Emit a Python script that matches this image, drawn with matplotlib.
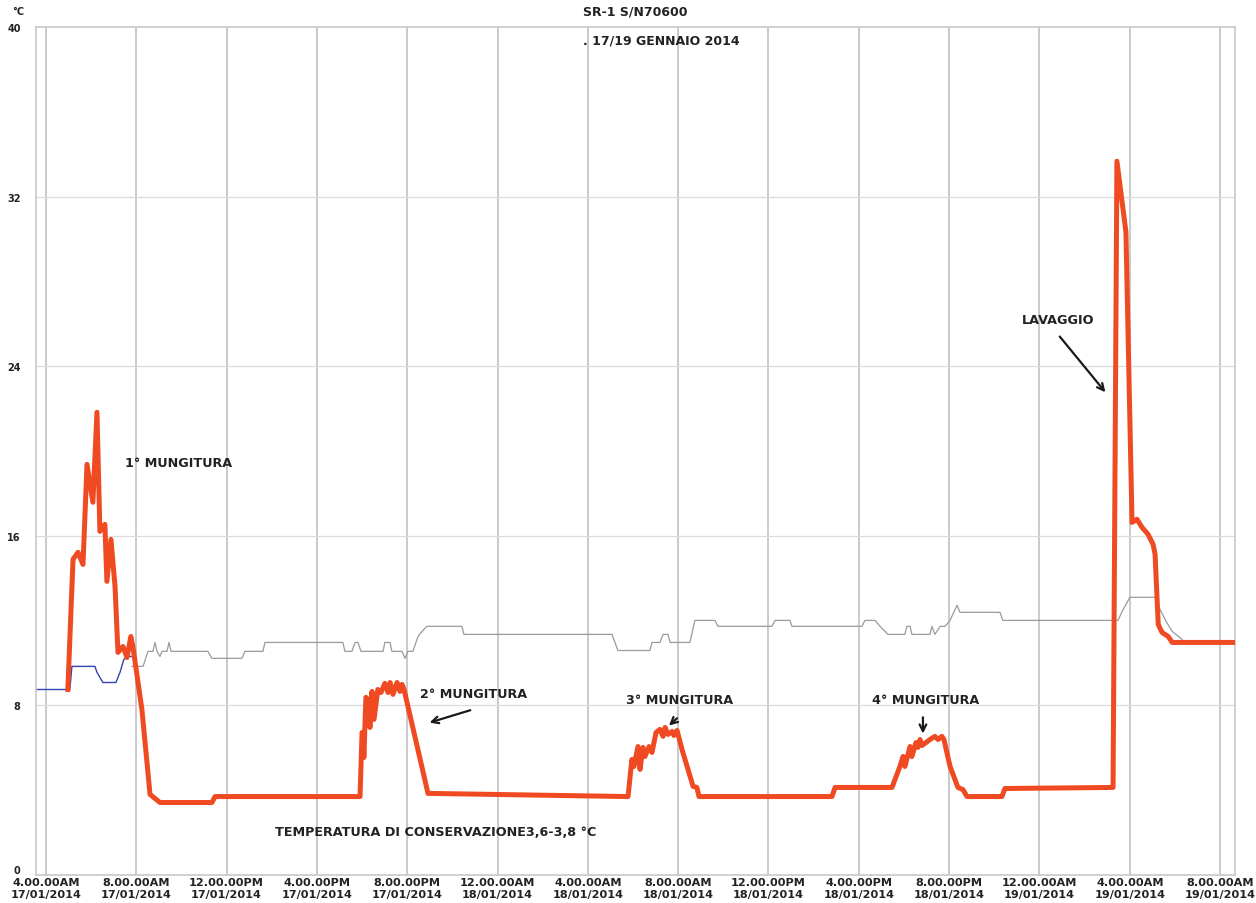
"""
Temperature log SR-1 S/N70600, 17/19 gennaio 2014
"""

import numpy as np
import matplotlib.pyplot as plt

# time in hours from 17/01/2014 00:00, temperature in degC
red_h = [4.97, 5.20, 5.42, 5.64, 5.82, 6.08, 6.26, 6.39, 6.61, 6.70, 6.88, 7.06, 7.19, 7.41, 7.59,
         7.76, 7.85, 8.25, 8.61, 9.05, 11.35, 11.49, 17.91,
         18.00, 18.04, 18.08, 18.17, 18.26, 18.35, 18.44, 18.53, 18.70, 18.84, 19.01, 19.15, 19.24,
         19.37, 19.55, 19.68, 19.77, 19.86, 20.92, 29.78,
         29.95, 30.04, 30.22, 30.31, 30.44, 30.53, 30.71, 30.84, 31.02, 31.19, 31.33, 31.42, 31.55,
         31.73, 31.81, 31.95, 32.17, 32.66, 32.83, 32.92, 38.81, 38.95, 41.47,
         41.82, 41.96, 42.04, 42.27, 42.35, 42.53, 42.62, 42.71, 42.80, 42.98, 43.15, 43.37, 43.51,
         43.68, 43.77, 44.04, 44.39, 44.61, 44.79, 46.34, 46.47, 51.26,
         51.43, 51.83, 52.10, 52.32, 52.54, 52.81, 53.03, 53.12, 53.26, 53.43, 53.70, 53.88, 56.57]
red_T = [8.75, 14.89, 15.22, 14.65, 19.37, 17.58, 21.83, 16.21, 16.54, 13.85, 15.83, 13.61, 10.50, 10.78, 10.26,
         11.25, 10.78, 7.81, 3.80, 3.42, 3.42, 3.70, 3.70,
         6.72, 6.63, 5.54, 8.38, 8.28, 6.96, 8.66, 7.34, 8.75, 8.61, 9.04, 8.61, 9.08,
         8.52, 9.08, 8.66, 8.99, 8.75, 3.85, 3.70,
         5.45, 5.12, 6.06, 4.98, 6.02, 5.59, 6.06, 5.78, 6.72, 6.87, 6.54, 6.96, 6.63,
         6.77, 6.58, 6.82, 5.92, 4.18, 4.13, 3.70, 3.70, 4.13, 4.13,
         5.12, 5.59, 5.12, 6.06, 5.59, 6.25, 6.02, 6.39, 6.11, 6.25, 6.39, 6.54, 6.39,
         6.54, 6.39, 5.12, 4.13, 4.03, 3.70, 3.70, 4.08, 4.13,
         33.67, 30.32, 16.63, 16.78, 16.40, 16.07, 15.60, 15.13, 11.82, 11.44, 11.25, 10.97, 10.97]

blue_h = [3.56, 5.06, 5.15, 6.17, 6.26, 6.52, 7.10, 7.28, 7.45, 7.63, 7.81]
blue_T = [8.75, 8.75, 9.84, 9.84, 9.56, 9.08, 9.08, 9.56, 10.17, 10.31, 10.31]

gray_h = [7.81, 8.30, 8.52, 8.74, 8.83, 8.92, 9.05, 9.14, 9.36, 9.45, 9.54, 11.17, 11.35, 12.68,
          12.81, 13.61, 13.70, 17.15, 17.24, 17.55, 17.69, 17.82, 17.95, 18.93, 19.01, 19.24, 19.32,
          19.77, 19.90, 20.03, 20.25, 20.48, 20.61, 20.87, 22.42, 22.51, 29.07, 29.33, 30.75, 30.84,
          31.19, 31.33, 31.55, 31.64, 32.52, 32.74, 33.63, 33.76, 36.15, 36.29, 36.95, 37.04, 40.14,
          40.27, 40.72, 40.94, 41.29, 42.04, 42.13, 42.27, 42.35, 43.15, 43.24, 43.37, 43.60, 43.82,
          44.04, 44.35, 44.48, 46.25, 46.38, 51.48, 51.66, 51.83, 52.01, 53.12, 53.34, 53.61, 53.88,
          54.32]
gray_T = [9.84, 9.84, 10.55, 10.55, 10.97, 10.55, 10.31, 10.55, 10.55, 10.97, 10.55, 10.55, 10.22, 10.22,
          10.55, 10.55, 10.97, 10.97, 10.55, 10.55, 10.97, 10.97, 10.55, 10.55, 10.97, 10.97, 10.55,
          10.55, 10.22, 10.55, 10.55, 11.25, 11.44, 11.73, 11.73, 11.35, 11.35, 10.59, 10.59, 10.97,
          10.97, 11.35, 11.35, 10.97, 10.97, 12.01, 12.01, 11.73, 11.73, 12.01, 12.01, 11.73, 11.73,
          12.01, 12.01, 11.73, 11.35, 11.35, 11.73, 11.73, 11.35, 11.35, 11.73, 11.35, 11.73, 11.73,
          12.01, 12.72, 12.39, 12.39, 12.01, 12.01, 12.43, 12.76, 13.10, 13.10, 12.53, 11.96, 11.49,
          11.11]

tick_hours = [4, 8, 12, 16, 20, 24, 28, 32, 36, 40, 44, 48, 52, 56]
tick_times = ['4.00.00AM', '8.00.00AM', '12.00.00PM', '4.00.00PM', '8.00.00PM', '12.00.00AM', '4.00.00AM',
              '8.00.00AM', '12.00.00PM', '4.00.00PM', '8.00.00PM', '12.00.00AM', '4.00.00AM', '8.00.00AM']
tick_dates = ['17/01/2014'] * 5 + ['18/01/2014'] * 6 + ['19/01/2014'] * 3
y_ticks = [0, 8, 16, 24, 32, 40]

plt.rcParams['font.family'] = ['DejaVu Sans']
plt.rcParams['font.weight'] = 'bold'
txt_col = '#222222'

fig = plt.figure(figsize=(12.56, 9.04), dpi=100)
ax = fig.add_axes([36/1256, 1-876/904, (1235-36)/1256, (876-28)/904])

ax.plot(gray_h, gray_T, color='#9a9a9a', lw=0.9, zorder=2)
ax.plot(blue_h, blue_T, color='#3343b0', lw=1.0, zorder=2)
ax.plot(red_h, red_T, color='#f04a22', lw=3.6, solid_joinstyle='round', zorder=3)

ax.set_xlim(3.56, 56.66)
ax.set_ylim(0, 40)
ax.set_xticks(tick_hours)
ax.set_xticklabels(['%s\n%s' % (t, d) for t, d in zip(tick_times, tick_dates)],
                   fontsize=8.1, linespacing=1.2, color=txt_col)
ax.set_yticks(y_ticks)
ax.set_yticklabels([str(v) for v in y_ticks], fontsize=7, color=txt_col)
ax.get_yticklabels()[0].set_va('bottom')
ax.tick_params(axis='x', length=0, pad=1.5)
ax.tick_params(axis='y', length=0, pad=11)

for h in tick_hours:
    ax.axvline(h, color='#c6c6c6', lw=1.3, zorder=1)
for v in y_ticks[1:-1]:
    ax.axhline(v, color='#dcdcdc', lw=0.9, zorder=1)
for s in ax.spines.values():
    s.set_color('#c8c8c8')
    s.set_linewidth(1.2)

fs = 9.2
arrow = dict(arrowstyle='->', color='#1a1a1a', lw=1.6, mutation_scale=12)
ax.text(7.50, 19.47, '1° MUNGITURA', fontsize=fs, va='center', color=txt_col)
ax.text(20.56, 8.56, '2° MUNGITURA', fontsize=fs, va='center', color=txt_col)
ax.annotate('', xy=(20.87, 7.15), xytext=(22.91, 7.81), arrowprops=arrow)
ax.text(29.69, 8.28, '3° MUNGITURA', fontsize=fs, va='center', color=txt_col)
ax.annotate('', xy=(31.50, 6.96), xytext=(32.04, 7.48), arrowprops=arrow)
ax.text(40.58, 8.28, '4° MUNGITURA', fontsize=fs, va='center', color=txt_col)
ax.annotate('', xy=(42.84, 6.54), xytext=(42.84, 7.57), arrowprops=arrow)
ax.text(47.23, 26.21, 'LAVAGGIO', fontsize=fs, va='center', color=txt_col)
ax.annotate('', xy=(51.0, 22.67), xytext=(48.82, 25.5), arrowprops=arrow)
ax.text(14.14, 2.05, 'TEMPERATURA DI CONSERVAZIONE3,6-3,8 °C', fontsize=fs, va='center', color=txt_col)

fig.text(635/1256, 1-12/904, 'SR-1 S/N70600', fontsize=9, ha='center', va='center', color=txt_col)
fig.text(583/1256, 1-41/904, '. 17/19 GENNAIO 2014', fontsize=9, ha='left', va='center', color=txt_col)
fig.text(18/1256, 1-12/904, '°C', fontsize=7, ha='center', va='center', color=txt_col)

fig.savefig('out.png', dpi=100)
